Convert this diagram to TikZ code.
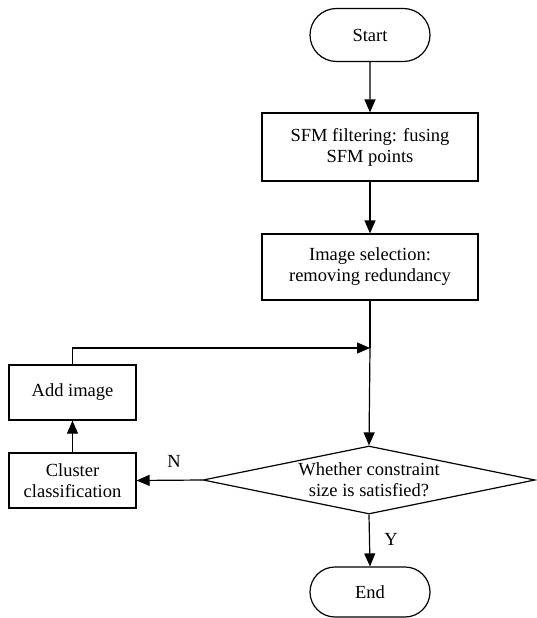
\documentclass[tikz,border=0pt]{standalone}
\usepackage{fontspec}
\setmainfont{Liberation Serif}
\usetikzlibrary{shapes.geometric,shapes.misc,arrows.meta}
\begin{document}
\begin{tikzpicture}[x=1pt,y=-1pt,
  every node/.style={font=\fontsize{18.5}{21}\selectfont},
  box/.style={draw, line width=1.2pt, rectangle, align=center, inner sep=0pt},
  term/.style={draw, line width=1.2pt, rounded rectangle, minimum width=120pt, minimum height=53pt, inner sep=0pt},
  decision/.style={draw, line width=1.2pt, diamond, minimum width=332pt, minimum height=68pt, inner sep=0pt},
  arr/.style={line width=1.2pt, -{Triangle[length=13pt,width=11pt]}},
  ln/.style={line width=1.2pt}]
\useasboundingbox (0,0) rectangle (536,618);
\node[term] (start) at (370,35) {Start};
\node[box, minimum width=216pt, minimum height=68pt] (sfm) at (370,147) {SFM filtering: fusing\\SFM points};
\node[box, minimum width=216pt, minimum height=66pt] (sel) at (370,267) {Image selection:\\removing redundancy};
\coordinate (j) at (370,348);
\node[decision] (dec) at (369,480) {};
\node[align=center, inner sep=0pt] (dectext) at (369,480) {Whether constraint\\size is satisfied?};
\node[box, minimum width=127pt, minimum height=55pt] (add) at (72.5,392.5) {Add image};
\node[box, minimum width=127pt, minimum height=55pt] (clu) at (72.5,480.5) {Cluster\\classification};
\node[term, minimum height=50pt] (end) at (370,592) {End};
\node (nl) at (174,461) {N};
\node (yl) at (391,539) {Y};
\draw[arr] (start) -- (sfm);
\draw[arr] (sfm) -- (sel);
\draw[ln] (sel.south) -- (j);
\draw[arr] (j) -- (dec.north);
\draw[arr] (add.north) |- (j);
\draw[arr] (clu) -- (add);
\draw[arr] (dec.west) -- (clu.east);
\draw[arr] (dec.south) -- (end.north);
\end{tikzpicture}
\end{document}
